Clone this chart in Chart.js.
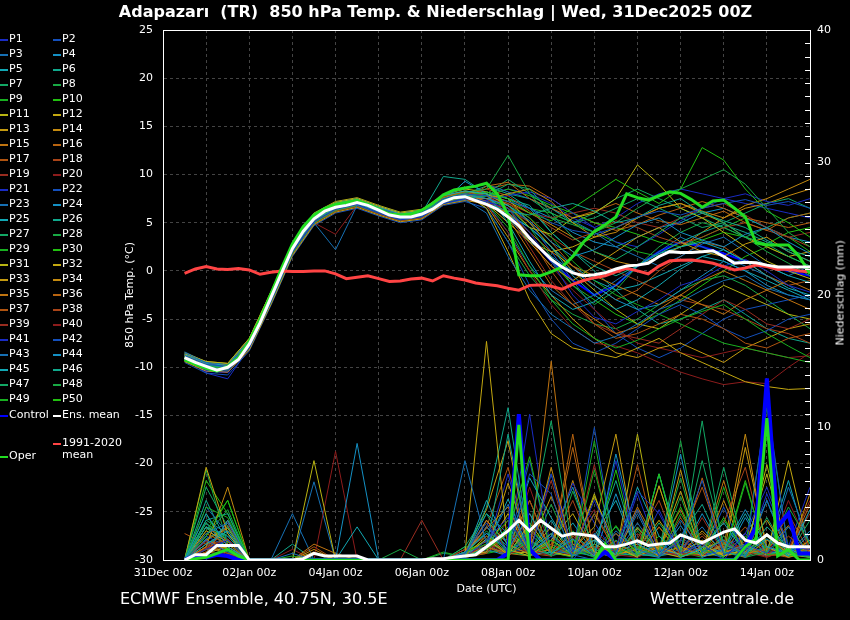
<!DOCTYPE html>
<html>
<head>
<meta charset="utf-8">
<script src="https://cdn.jsdelivr.net/npm/chart.js@4/dist/chart.umd.min.js"></script>
<style>
  body { margin: 0; background: #000; }
  #wrap { position: relative; width: 850px; height: 620px; background: #000; overflow: hidden;
          font-family: 'DejaVu Sans', sans-serif; color: #fff; }
  #c { position: absolute; left: 0; top: 0; }
  .txt { position: absolute; white-space: nowrap; }
  .lg { position: absolute; font-size: 11px; line-height: 12px; white-space: nowrap; }
  .lg i { position: absolute; left: 0; top: 6px; width: 8px; height: 2px; }
  .lg span { position: absolute; left: 9px; top: 0; }
</style>
</head>
<body>
<div id="wrap">
  <canvas id="c" width="850" height="620"></canvas>
  <div class="txt" style="left:0;width:871px;top:3px;text-align:center;font-size:16px;font-weight:bold;line-height:18px;">Adapazarı&nbsp;&nbsp;(TR)&nbsp;&nbsp;850 hPa Temp. &amp; Niederschlag | Wed, 31Dec2025 00Z</div>
  <div class="txt" style="left:120px;top:590px;font-size:16px;line-height:18px;">ECMWF Ensemble, 40.75N, 30.5E</div>
  <div class="txt" style="left:650px;top:590px;font-size:16px;line-height:18px;">Wetterzentrale.de</div>
  <div class="txt" style="left:790px;top:289px;width:100px;text-align:center;font-size:11px;line-height:13px;transform:rotate(-90deg);">Niederschlag (mm)</div>
  <div id="legend"></div>
</div>
<script>
// hours after 31Dec 00z
const hours6 = [12,18,24,30,36,42,48,54,60,66,72,78,84,90,96,102,108,114,120,126,
  132,138,144,150,156,162,168,174,180,186,192,198,204,210,216,222,228,234,240,246,
  252,258,264,270,276,282,288,294,300,306,312,318,324,330,336,342,348,354,360];
const hours12 = [12,24,36,48,60,72,84,96,108,120,132,144,156,168,
  180,192,204,216,228,240,252,264,276,288,300,312,324,336,348,360];
const xTickLabels = ['31Dec 00z','02Jan 00z','04Jan 00z','06Jan 00z','08Jan 00z','10Jan 00z','12Jan 00z','14Jan 00z'];

// 850 hPa temperature (°C), 6-hourly
const ensMean = [-9.0,-9.5,-9.9,-10.3,-10.0,-9.2,-7.6,-5.4,-2.8,-0.2,
  2.3,4.1,5.4,6.2,6.6,6.8,7.1,6.8,6.3,5.8,
  5.6,5.6,5.9,6.4,7.2,7.6,7.7,7.3,6.9,6.4,
  5.6,4.7,3.4,2.3,1.2,0.4,-0.2,-0.5,-0.4,-0.2,
  0.2,0.5,0.6,0.8,1.5,2.0,1.9,1.9,2.0,2.1,
  1.5,0.8,0.9,0.85,0.6,0.4,0.4,0.4,0.4];
const operTemp = [-9.2,-9.7,-10.1,-10.4,-9.9,-9.0,-7.3,-5.0,-2.4,0.3,
  2.8,4.6,5.8,6.5,6.9,7.1,7.3,6.9,6.4,5.9,
  5.8,5.9,6.3,7.0,7.9,8.4,8.6,8.8,9.1,8.0,
  5.8,-0.4,-0.5,-0.5,-0.1,0.4,1.5,3.0,4.1,4.8,
  5.6,8.0,7.6,7.35,7.8,8.2,8.05,7.4,6.6,7.25,
  7.35,6.5,5.6,2.9,2.7,2.7,2.7,1.5,-0.3];
const climMean = [-0.25,0.2,0.45,0.2,0.15,0.25,0.1,-0.35,-0.15,0.0,
  -0.05,-0.05,0.0,0.0,-0.3,-0.8,-0.65,-0.5,-0.8,-1.1,
  -1.05,-0.85,-0.75,-1.05,-0.5,-0.75,-0.95,-1.25,-1.4,-1.55,
  -1.8,-2.0,-1.5,-1.45,-1.6,-1.9,-1.4,-1.0,-0.7,-0.5,
  -0.1,0.27,0.0,-0.3,0.5,1.05,1.1,1.13,1.0,0.8,
  0.45,0.1,0.3,0.6,0.45,0.15,0.2,0.0,-0.1];

// precipitation (mm), 6-hourly
const meanPrecip = [0,0.4,0.4,1.1,1.1,1.1,0,0,0,0,
  0,0.1,0.5,0.3,0.3,0.3,0.3,0,0,0,
  0,0,0,0.1,0.1,0.2,0.3,0.4,1.0,1.6,
  2.2,3.0,2.2,3.0,2.4,1.8,2.0,1.9,1.8,1.0,
  1.0,1.2,1.45,1.1,1.2,1.28,1.9,1.6,1.3,1.7,
  2.1,2.35,1.5,1.28,1.9,1.28,1.0,1.0,1.0];
const operPrecip = [0,0.1,0.2,0.5,0.8,0.3,0,0,0,0,
  0,0,0,0,0,0,0,0,0,0,
  0,0,0,0,0,0,0,0,0,0,
  0,10.2,0,0,0,0,0,0,0,1.2,
  0,0,0,0,0,0,0,0,0,0,
  0,0,1.0,1.6,10.7,0.3,0.8,0,0];
const controlPrecip = [0,0.3,0.2,0.4,0.3,0,0,0,0,0,
  0,0,0,0,0,0,0,0,0,0,
  0,0,0,0,0,0,0,0,0,0,
  0.5,11.0,0.8,0,0,0,0,0,0,0.6,
  0,0,0,0,0,0,0,0,0,0,
  0,0,1.0,2.5,13.7,2.5,3.5,0.5,0.5];

// control run temperature, 12-hourly
const controlTemp = [-9.1,-10.4,-10.5,-7.8,-2.9,2.2,5.3,6.5,7.0,6.2,5.5,5.8,7.2,7.6,
  7.2,6.0,3.5,1.0,-1.0,-2.5,-1.5,0.5,2.0,3.0,2.5,1.8,1.0,0.5,0.0,-0.5];

// members P1..P50, temperature, 12-hourly
const tempMembers = [
  [-9.2,-10.3,-10.4,-8.0,-3.2,2.0,5.1,6.4,6.9,6.0,5.3,5.6,7.0,7.5, 7.2,6.5,4.0,1.0,-2.5,-4.8,-5.5,-4.2,-3.0,-1.5,-0.8,0.5,1.2,0.0,-1.5,-2.2],
  [-8.8,-9.7,-9.9,-7.4,-2.5,2.6,5.7,6.9,7.3,6.5,5.8,6.1,7.5,8.0, 7.8,7.2,6.5,5.0,4.2,3.8,4.5,5.6,6.2,5.8,6.5,7.0,7.4,6.8,7.2,6.5],
  [-8.5,-9.5,-10.1,-7.8,-3.0,2.0,5.0,2.2,6.8,6.1,5.4,5.7,7.0,7.4, 6.0,1.5,-2.0,-4.5,-6.0,-7.5,-6.8,-5.5,-4.0,-3.2,-2.0,-1.0,-0.5,-1.8,-2.5,-3.0],
  [-9.1,-10.0,-10.2,-7.7,-2.9,2.2,5.3,6.5,7.0,6.2,5.5,5.8,7.3,7.9, 7.5,6.8,5.2,3.0,1.5,2.2,3.5,4.8,5.5,4.0,3.2,2.5,3.8,4.5,3.0,1.8],
  [-8.7,-9.6,-9.8,-7.2,-2.4,2.7,5.8,7.0,7.4,6.6,5.9,6.2,7.8,8.3, 8.0,5.0,1.0,-2.5,-4.0,-3.2,-1.5,0.5,1.8,2.5,3.0,2.2,1.0,0.5,-0.5,-1.2],
  [-9.0,-9.8,-10.0,-7.5,-2.7,2.4,5.5,6.7,7.2,6.4,5.7,6.0,7.4,7.8, 7.0,6.2,5.8,6.5,7.0,6.2,5.0,5.5,6.8,7.5,6.0,5.2,4.5,3.2,2.0,1.0],
  [-9.3,-10.2,-10.3,-8.0,-3.3,1.8,5.0,6.3,6.8,6.0,5.3,5.6,7.0,7.5, 7.8,9.0,8.5,6.0,3.5,2.0,1.2,2.5,4.0,5.5,6.2,5.0,3.5,2.8,1.5,0.5],
  [-8.9,-9.8,-9.9,-7.5,-2.6,2.5,5.6,6.8,7.2,6.4,5.7,6.0,7.5,8.1, 8.5,12.0,8.0,5.5,4.8,4.0,5.0,6.5,7.8,8.5,9.5,10.5,9.0,6.5,4.0,2.5],
  [-9.0,-9.9,-10.0,-7.6,-2.8,2.3,5.4,6.6,7.1,6.3,5.6,5.9,7.2,7.7, 7.0,4.5,0.5,-3.0,-5.5,-7.0,-8.0,-7.2,-6.0,-5.0,-4.2,-3.5,-5.0,-6.5,-7.8,-9.0],
  [-9.1,-10.0,-10.1,-7.7,-2.9,2.2,5.3,6.5,7.0,6.2,5.5,5.8,7.2,7.8, 8.2,7.5,6.0,5.2,6.5,8.0,9.5,8.2,7.0,8.5,12.8,11.5,8.5,6.2,5.0,3.5],
  [-8.6,-9.4,-9.6,-7.0,-2.2,2.8,5.9,7.1,7.5,6.7,6.0,6.3,7.8,8.3, 8.0,6.8,4.5,3.8,5.5,6.0,7.5,11.0,9.0,6.5,5.5,4.0,2.5,1.0,0.0,-0.8],
  [-8.8,-9.7,-9.9,-7.4,-2.5,2.6,5.7,6.9,7.3,6.5,5.8,6.1,7.5,8.0, 6.5,2.0,-3.0,-6.5,-8.0,-8.5,-9.0,-8.0,-7.0,-8.5,-9.5,-10.5,-11.5,-12.0,-12.3,-12.2],
  [-9.4,-10.4,-10.5,-8.2,-3.5,1.6,4.8,6.1,6.6,5.8,5.1,5.4,6.9,7.3, 7.0,6.0,3.0,0.5,-1.0,0.5,2.0,3.5,4.5,3.0,2.0,1.5,2.8,3.5,2.0,1.0],
  [-9.0,-9.9,-10.0,-7.6,-2.8,2.3,5.4,6.6,7.1,6.3,5.6,5.9,7.2,7.7, 7.5,8.0,8.5,7.2,5.0,3.5,4.0,5.5,6.5,7.0,6.2,5.5,6.8,7.5,8.5,9.5],
  [-8.9,-9.8,-9.9,-7.5,-2.6,2.5,5.6,6.8,7.2,6.4,5.7,6.0,7.5,8.0, 7.2,5.5,2.0,-1.5,-3.5,-5.0,-6.5,-5.8,-4.0,-2.5,-3.5,-4.5,-3.0,-2.0,-1.0,-2.0],
  [-9.2,-10.1,-10.2,-7.9,-3.1,2.0,5.1,6.3,6.8,6.0,5.3,5.6,7.0,7.4, 8.8,9.2,7.5,6.5,5.5,6.2,7.0,6.0,5.2,4.8,5.5,6.2,5.0,4.2,5.5,6.0],
  [-8.7,-9.6,-9.8,-7.2,-2.4,2.7,5.8,7.0,7.4,6.6,5.9,6.2,7.7,8.2, 7.8,6.5,3.5,0.0,-3.0,-5.5,-7.0,-6.5,-5.5,-4.5,-5.0,-6.0,-7.5,-8.0,-7.0,-6.5],
  [-9.1,-10.0,-10.1,-7.7,-2.9,2.2,5.3,6.5,7.0,6.2,5.5,5.8,7.2,7.7, 8.5,7.8,6.2,4.5,3.2,4.0,5.2,4.5,3.5,2.8,3.5,4.5,5.0,4.2,3.5,2.5],
  [-8.8,-9.8,-10.0,-7.5,-2.6,2.4,5.5,6.7,7.1,6.3,5.6,5.9,7.3,7.8, 7.5,6.0,2.5,-1.0,-3.5,-5.5,-6.5,-7.0,-7.5,-6.0,-4.5,-3.0,-4.0,-5.5,-6.0,-5.0],
  [-9.3,-10.2,-10.3,-8.0,-3.3,1.8,5.0,3.8,6.8,6.0,5.3,5.6,7.0,7.5, 6.8,4.0,0.0,-3.5,-6.0,-7.5,-7.8,-8.5,-9.5,-10.5,-11.2,-11.8,-11.5,-11.7,-10.0,-8.5],
  [-9.0,-9.9,-10.0,-7.6,-2.8,2.3,5.4,6.6,7.1,6.3,5.6,5.9,7.2,7.7, 7.3,7.8,8.2,7.5,6.0,4.5,3.0,2.5,3.8,5.2,6.5,7.5,8.0,7.2,6.8,7.5],
  [-9.5,-10.6,-10.8,-8.3,-3.6,1.5,4.7,6.0,6.5,5.7,5.0,5.3,6.8,7.2, 6.5,3.0,-1.5,-5.0,-7.5,-8.5,-7.5,-6.0,-4.5,-3.5,-4.5,-6.0,-7.0,-6.2,-5.0,-4.5],
  [-8.6,-9.5,-9.7,-7.1,-2.3,2.8,5.9,7.1,7.5,6.7,6.0,6.3,7.9,8.6, 9.0,8.2,7.5,6.5,5.2,4.0,2.5,1.5,0.5,1.5,2.8,3.5,2.0,0.5,-0.5,0.5],
  [-9.0,-9.9,-10.0,-7.6,-2.8,2.3,5.4,6.6,7.1,6.3,5.6,5.9,7.2,9.3, 8.0,5.5,3.0,1.5,0.0,-1.5,-3.0,-4.0,-3.5,-2.0,-0.5,1.0,0.0,-1.5,-2.5,-3.0],
  [-9.2,-10.1,-10.2,-7.8,-3.0,2.1,5.2,6.4,6.9,6.1,5.4,5.7,7.0,7.6, 7.0,5.8,4.5,2.5,-0.5,-2.5,-4.0,-3.0,-1.5,0.2,1.5,2.2,1.0,-0.5,-1.8,-2.5],
  [-8.9,-9.8,-9.9,-7.5,-2.6,2.5,5.6,6.8,7.2,6.4,5.7,6.0,9.8,9.5, 8.0,7.5,6.8,4.0,2.0,0.5,-0.5,0.5,1.8,3.0,4.0,4.8,4.0,3.0,2.2,1.5],
  [-9.1,-10.0,-10.1,-7.7,-2.9,2.2,5.3,6.5,7.0,6.2,5.5,5.8,7.2,7.7, 8.0,9.5,8.0,6.5,5.0,5.5,6.5,7.5,6.5,5.5,4.5,5.0,6.0,7.0,7.5,6.5],
  [-8.8,-9.7,-9.9,-7.4,-2.5,2.6,5.7,6.9,7.3,6.5,5.8,6.1,7.5,8.0, 7.5,6.5,4.5,1.5,-1.5,-3.5,-2.0,0.5,2.5,4.0,5.0,4.5,3.5,2.0,0.8,-0.5],
  [-9.0,-9.9,-10.1,-7.6,-2.8,2.3,5.4,6.6,7.1,6.3,5.6,5.9,7.2,7.7, 7.2,6.8,5.5,3.5,1.0,-1.0,-2.5,-3.5,-4.5,-5.5,-6.5,-7.5,-8.0,-8.5,-9.0,-9.5],
  [-9.3,-10.2,-10.4,-8.0,-3.2,1.9,5.0,6.3,6.8,6.0,5.3,5.6,7.0,7.5, 7.8,8.5,7.8,6.8,6.0,5.0,4.5,3.8,3.0,2.5,3.2,4.0,3.5,2.8,4.0,4.5],
  [-8.5,-9.4,-9.6,-7.0,-2.2,2.8,6.0,7.2,7.6,6.8,6.1,6.4,7.9,8.5, 8.2,7.5,5.0,2.5,0.0,-2.0,-4.0,-5.5,-6.0,-4.5,-3.0,-1.5,-2.5,-3.5,-4.5,-5.0],
  [-9.0,-9.9,-10.0,-7.6,-2.8,2.3,5.4,6.6,7.1,6.3,5.6,5.9,7.2,7.7, 7.0,5.0,3.0,2.0,2.5,3.5,4.5,5.5,6.5,7.0,6.0,5.0,3.5,2.5,1.5,2.0],
  [-9.2,-10.1,-10.2,-7.8,-3.0,2.1,5.2,6.4,6.9,6.1,5.4,5.7,7.1,7.6, 6.8,3.5,0.0,-2.5,-5.0,-7.0,-8.5,-9.0,-8.0,-7.5,-8.5,-9.5,-8.0,-7.0,-6.0,-5.5],
  [-8.8,-9.7,-9.8,-7.3,-2.4,2.7,5.8,7.0,7.4,6.6,5.9,6.2,7.6,8.2, 8.0,7.2,6.0,4.8,3.5,2.0,1.0,0.5,1.5,2.5,4.0,5.5,6.5,7.0,7.8,8.5],
  [-9.1,-10.0,-10.1,-7.7,-2.9,2.2,5.3,6.5,7.0,6.2,5.5,5.8,7.2,7.7, 7.5,6.0,4.0,2.0,0.5,-0.5,-1.5,-2.5,-3.5,-2.5,-1.0,0.0,-1.0,-2.0,-3.0,-4.0],
  [-9.0,-9.9,-10.0,-7.6,-2.8,2.3,5.4,6.6,7.1,6.3,5.6,5.9,7.3,7.9, 8.5,9.0,8.8,7.5,6.0,5.0,4.2,4.8,5.8,6.5,7.2,6.5,5.5,5.0,4.5,5.0],
  [-8.7,-9.6,-9.8,-7.3,-2.5,2.6,5.7,6.9,7.3,6.5,5.8,6.1,7.5,8.0, 7.8,7.0,5.5,3.0,0.5,-1.5,-3.0,-2.0,0.0,1.5,3.0,2.5,1.0,-0.5,-1.5,-1.0],
  [-9.4,-10.3,-10.5,-8.1,-3.4,1.7,4.9,6.2,6.7,5.9,5.2,5.5,6.9,7.4, 7.0,6.5,5.0,3.5,2.0,1.0,0.0,-1.0,-2.0,-3.0,-3.5,-4.0,-5.0,-6.0,-6.5,-7.5],
  [-9.0,-9.9,-10.0,-7.6,-2.8,2.3,5.4,6.6,7.1,6.3,5.6,5.9,7.2,7.7, 7.5,7.0,6.0,5.5,6.0,6.5,6.0,5.0,4.5,5.5,6.5,7.0,5.8,4.5,3.5,4.0],
  [-9.2,-10.1,-10.3,-7.9,-3.1,2.0,5.1,6.3,6.8,6.0,5.3,5.6,7.0,7.5, 7.2,5.5,3.0,0.5,-2.0,-4.0,-6.0,-7.5,-8.0,-8.5,-9.0,-8.5,-8.0,-8.5,-9.0,-8.8],
  [-9.0,-10.6,-11.2,-8.0,-3.0,2.1,5.2,6.4,6.9,6.1,5.4,5.7,7.1,7.6, 7.8,8.5,8.0,7.0,5.5,4.5,5.5,7.0,8.0,8.5,8.0,7.5,7.0,6.5,6.0,5.5],
  [-8.8,-9.7,-9.9,-7.4,-2.5,2.6,5.7,6.9,7.3,6.5,5.8,6.1,7.5,8.0, 7.5,6.8,5.0,2.0,-1.0,-4.0,-6.5,-8.0,-9.0,-8.0,-6.5,-5.0,-4.0,-3.5,-3.0,-2.5],
  [-8.4,-9.5,-9.8,-7.3,-2.6,2.4,5.5,6.7,7.1,6.3,5.6,5.9,7.3,7.8, 7.0,4.0,0.5,-2.0,-3.5,-2.5,-1.0,0.5,2.0,3.5,2.5,1.5,0.5,-0.5,-1.5,-2.8],
  [-9.0,-9.9,-10.0,-7.6,-2.8,2.3,5.4,6.6,7.1,6.3,5.6,5.9,7.2,7.7, 8.2,7.5,6.5,5.5,4.0,3.0,2.5,3.5,4.5,5.0,6.0,6.5,5.5,4.5,3.5,3.0],
  [-9.3,-10.2,-10.3,-7.9,-3.2,1.9,5.0,6.3,6.8,6.0,5.3,5.6,7.0,7.5, 7.0,6.0,4.5,2.5,0.5,-1.0,-2.0,-1.5,-0.5,0.5,1.5,1.0,0.0,-1.0,-2.0,-3.0],
  [-8.9,-9.8,-9.9,-7.5,-2.6,2.5,5.6,6.8,7.2,6.4,5.7,6.0,7.4,8.0, 8.8,8.0,6.5,4.0,2.0,0.0,-2.0,-4.0,-5.5,-5.0,-4.0,-3.0,-4.5,-6.0,-7.0,-7.5],
  [-9.1,-10.0,-10.1,-7.7,-2.9,2.2,5.3,6.5,7.0,6.2,5.5,5.8,7.2,7.7, 7.5,8.0,7.5,6.0,5.0,6.0,7.5,8.5,7.5,6.5,5.5,4.5,3.5,4.5,5.5,6.0],
  [-8.7,-9.6,-9.8,-7.3,-2.4,2.7,5.8,7.0,7.4,6.6,5.9,6.2,7.6,8.1, 6.5,3.0,-0.5,-3.0,-4.5,-5.5,-6.0,-5.0,-3.5,-2.0,-1.0,-0.5,-1.5,-3.0,-4.5,-6.0],
  [-9.0,-9.9,-10.0,-7.6,-2.8,2.3,5.4,6.6,7.1,6.3,5.6,5.9,7.2,7.7, 7.8,7.2,6.5,6.0,5.0,4.0,3.0,2.0,1.5,2.5,3.5,4.5,5.5,4.5,3.5,2.0],
  [-9.2,-10.1,-10.2,-7.8,-3.0,2.1,5.2,6.4,6.9,6.1,5.4,5.7,7.1,7.6, 7.0,5.5,3.5,1.0,-1.5,-3.0,-4.5,-5.5,-4.5,-3.0,-1.5,0.0,1.5,2.5,1.5,0.5]
];

// members P1..P50, precipitation, 12-hourly
const precipMembers = [
  [0,0.8,1.5,0,0,0,0,0,0,0,0,0,0,0.2, 1.5,3.2,0.4,6.5,0.6,4.5,1.0,5.2,3.5,0.5,1.2,0,2.0,5.5,1.0,0.8],
  [0,1.5,0.6,0,0,0,0,0,0,0,0,0,0,0.5, 2.8,0.5,6.5,5.0,0,2.0,0.6,3.8,0.3,1.5,6.0,0.4,1.2,0.5,2.5,0.3],
  [0,2.0,2.8,0,0,0.5,0,0,0,0,0,0,0,7.5, 1.2,4.2,0.6,1.8,0.4,0,2.2,0.8,0.2,3.0,0.6,1.5,0.2,4.5,0.7,1.0],
  [0,3.5,1.0,0,0,0,0,0,8.8,0,0,0,0,0.6, 2.0,0.8,3.5,0.5,1.6,0.3,8.0,1.2,0.4,2.6,0.2,0.8,3.8,1.0,0.5,2.2],
  [0,1.2,2.2,0,0,0,0,0,2.5,0,0,0,0,0.3, 4.5,1.0,6.2,3.2,0.6,1.5,0.4,5.5,1.8,0.2,0.9,2.8,0.5,1.6,0.3,3.8],
  [0,2.5,1.8,0,0,0,0,0,0,0,0,0,0,0.2, 1.0,9.5,0.8,2.0,0.3,1.2,6.0,0.5,0.2,1.8,4.2,0.6,0.3,2.5,1.0,0.4],
  [0,5.5,2.5,0,0,0,0,0,0,0,0,0,0,1.0, 3.5,0.6,2.2,10.5,0.8,0.2,1.5,0.3,2.8,0.6,7.5,1.2,0.4,3.2,0.5,0.2],
  [0,2.8,1.5,0,0,0,0,0,0,0,0.8,0,0,0.4, 2.2,0.5,1.4,0.3,5.2,0.8,0.2,2.5,0.6,9.0,0.4,1.8,0.2,0.6,4.0,1.2],
  [0,4.0,3.2,0,0,0.3,0,0,0,0,0,0,0,0.6, 1.2,3.0,0.4,1.5,0.3,6.8,0.5,1.0,0.2,3.5,0.8,0.2,5.8,0.4,0.6,0.3],
  [0,1.8,4.5,0,0,0,0,0,0,0,0,0,0,0.3, 0.8,2.0,7.8,0.5,1.5,0.2,2.6,0.4,6.5,0.3,0.6,3.2,0.5,1.8,0.3,0.5],
  [0,0.5,1.0,0,0,0,7.5,0,0,0,0,0,0,0.2, 1.6,0.4,2.8,0.6,0.3,4.8,1.0,0.2,5.6,0.5,1.2,0.3,0.8,6.5,0.4,0.2],
  [0,7.0,2.0,0,0,0,0,0,0,0,0,0,0,0.5, 16.5,0.8,0.3,1.5,3.5,0.6,0.2,2.4,0.8,5.2,0.3,0.5,1.2,3.0,0.4,0.6],
  [0,2.2,1.4,0,0,0,0,0,0,0,0,0,0,0.4, 0.6,5.8,1.0,4.8,0.8,2.5,9.5,0.3,1.0,0.4,2.2,0.5,8.5,1.0,0.2,0.6],
  [0,1.0,5.5,0,0,0,0.8,0,0,0,0,0,0,0.2, 3.0,1.2,0.4,7.0,0.6,1.5,0.2,3.8,0.5,1.0,0.3,4.5,0.6,2.0,0.4,5.0],
  [0,1.5,0.8,0,0,0,1.2,0.5,0,0,0,0,0,0.6, 2.4,4.0,0.5,15.0,1.2,0.3,2.0,0.6,1.0,3.8,0.4,1.2,0.5,0.8,2.6,0.3],
  [0,2.0,1.2,0,0,0,0,0,0,0,0,0,0,0.3, 1.0,0.5,3.5,0.8,8.5,0.6,1.4,0.3,2.5,0.5,6.2,0.8,0.2,1.5,0.6,4.2],
  [0,0.6,2.6,0,0,0,0,0,0,0,0,0,0,0.2, 0.5,2.2,0.4,1.2,0.3,3.5,0.6,7.2,0.4,1.5,5.5,0.8,2.5,0.5,0.2,1.0],
  [0,1.2,0.5,0,0,0,0,0,0,0,0,0,0,0.8, 1.8,0.4,4.5,0.6,2.0,0.3,0.8,1.6,4.5,0.3,1.0,2.8,7.0,0.3,1.8,0.6],
  [0,0.9,1.6,0,0,0,0,0,0,0,0,3.0,0,0.4, 3.0,0.6,1.2,6.0,0.4,1.0,0.3,2.0,0.6,0.4,3.2,0.5,1.4,0.2,0.8,4.5],
  [0,1.0,0.4,0,0,0,0,8.2,0,0,0,0,0,0.3, 1.2,0.5,0.8,0.3,1.5,3.8,0.4,0.2,1.0,0.5,0.3,1.4,0.6,0.2,4.5,0.8],
  [0,0.3,0.8,0,0,0,0,0,0,0,0,0,0,0.2, 0.8,6.5,0.3,1.5,5.8,2.8,0.4,5.0,0.6,1.2,0.3,0.8,2.0,0.5,1.0,5.5],
  [0,1.8,1.0,0,0,0,0,0,0,0,0,0,0,0.5, 2.5,1.0,7.5,0.4,1.0,0.5,2.0,0.3,0.6,1.8,0.4,4.0,0.3,12.0,0.6,0.4],
  [0,4.0,2.0,0,0,0,5.9,0,0,0,0,0,0,0.4, 1.2,0.3,2.2,0.8,0.4,1.5,0.5,3.5,0.3,0.8,2.5,0.4,1.0,0.3,5.5,1.2],
  [0,0.5,3.0,0,0,0,0,0,0,0,0,0,0,0.3, 3.5,2.0,0.5,1.8,5.5,0.6,0.3,1.5,0.5,8.0,0.6,0.2,3.2,0.6,0.3,2.0],
  [0,2.5,0.8,0,0,0,0,0,0,0,0,0,0,0.6, 1.0,4.6,0.6,3.0,0.3,1.8,4.5,0.5,0.8,0.4,1.0,0.6,3.5,0.4,0.8,0.3],
  [0,3.0,3.5,0,0,0,0,0,0,0,0,0,0,0.2, 4.0,11.5,0.8,0.4,2.0,0.6,0.3,0.5,6.5,0.8,0.4,1.2,0.5,2.0,0.6,0.3],
  [0,1.2,2.0,0,0,0,0,0,0,0,0,0,0,0.4, 0.6,0.8,1.5,0.3,0.8,3.5,1.0,0.4,1.2,0.3,10.5,0.6,0.2,1.0,0.4,3.0],
  [0,6.8,1.2,0,0,0,0,0,0,0,0,0,0,0.5, 2.0,0.6,0.3,4.2,0.5,0.8,0.3,2.2,0.5,6.2,0.4,3.0,0.8,0.3,1.2,0.5],
  [0,2.2,4.5,0,0,0,0,0,0,0,0,0,0.6,0.2, 1.5,0.4,2.5,0.6,0.2,9.0,0.5,0.3,1.8,0.6,0.2,5.5,0.4,1.0,0.3,0.6],
  [0,3.5,0.6,0,0,0,0,0,0,0,0,0,0,1.0, 0.8,2.5,0.5,1.0,0.4,0.6,6.8,0.3,0.8,4.0,0.5,0.8,0.3,1.5,0.6,0.2],
  [0,1.0,0.5,0,0,0,0,0,0,0,0,0,0,0.3, 1.8,0.5,0.6,2.5,0.4,5.0,0.3,9.5,0.6,0.2,0.8,1.5,0.4,7.2,0.3,1.0],
  [0,1.5,2.4,0,0,0,0,0,0,0,0,0,0,0.4, 2.5,1.0,4.5,0.5,0.3,1.2,0.4,0.8,3.0,0.6,1.5,0.3,0.8,0.4,7.5,0.6],
  [0,0.8,1.0,0,0,0,0,0,0,0,0,0,0,0.6, 3.8,9.0,0.6,1.5,0.4,2.0,0.6,1.2,0.3,6.8,0.4,0.6,1.0,0.5,0.3,1.5],
  [0,0.4,3.0,0,0,0,0.6,0,0,0,0,0,0,0.5, 0.9,3.5,0.5,0.8,6.0,0.4,1.0,0.3,2.5,0.4,0.6,1.0,9.5,0.6,0.4,0.8],
  [0,2.5,1.5,0,0,0,0,0,0,0,0,0,0,0.6, 1.4,0.5,0.3,2.0,0.6,1.0,0.5,4.0,1.0,0.3,0.5,6.0,0.3,1.8,0.4,0.6],
  [0,0.6,0.4,0,0,0,0,0,0,0,0,0,0,0.3, 1.0,0.3,1.5,0.6,9.5,0.4,1.2,0.6,0.3,1.0,2.0,0.4,0.6,0.3,0.5,1.5],
  [2.0,1.2,1.5,0,0,0,1.0,0,0,0,0,0,0,0.2, 2.5,7.0,0.5,0.3,1.8,0.6,0.3,1.0,0.5,3.2,0.5,0.8,2.0,0.4,0.6,0.3],
  [0,0.8,2.8,0,0,0,0,0,0,0,0,0,0,0.5, 0.5,2.0,0.3,1.2,4.5,0.5,0.3,1.0,5.6,0.6,1.8,0.3,0.6,0.4,3.5,0.5],
  [0,1.5,0.8,0,0,0,0,0,0,0,0,0,0,0.8, 0.6,3.0,0.4,0.8,0.5,7.2,0.3,2.5,0.4,0.6,0.3,1.8,0.6,0.4,0.8,3.5],
  [0,1.4,0.6,0,0,0.8,0,0,0,0,0,0,0,0.4, 1.0,0.4,5.5,0.8,0.3,2.2,0.8,0.4,0.6,0.3,1.0,0.5,0.3,0.8,0.5,3.8],
  [0,0.5,1.0,0,0,0,0,0,0,0,0,0,0,0.3, 1.5,0.6,11.0,0.5,0.8,0.4,7.5,0.5,3.8,0.3,0.6,0.8,0.3,5.0,1.0,0.5],
  [0,0.6,1.8,0,0,0,0,0,0,0,0,0,0,0.8, 2.0,1.5,0.4,0.8,0.5,10.0,0.3,0.8,0.4,1.5,0.6,0.3,2.0,0.5,0.3,1.0],
  [0,1.0,2.2,0,0,3.5,0,0,0,0,0,0,0,0.4, 2.5,0.6,0.8,0.3,1.2,0.6,0.4,2.8,0.5,0.4,1.5,0.6,0.3,1.0,0.5,0.4],
  [0,2.8,0.8,0,0,0,0,0,0,0,0,0,0,0.6, 0.8,0.3,2.0,0.5,0.6,0.3,5.0,0.5,1.2,0.4,3.5,0.6,0.8,4.5,0.3,0.6],
  [0,1.6,2.5,0,0,0,0,0,0,0,0,0,0,0.4, 3.0,1.2,0.4,0.6,2.8,0.5,0.3,0.8,0.5,0.3,0.6,1.0,0.4,0.6,6.0,0.4],
  [0,4.5,1.2,0,0,1.2,0,0,0,0,0,0,0,0.3, 0.6,2.5,0.3,0.8,0.4,1.5,0.6,0.3,6.5,0.4,0.8,0.3,1.2,0.5,0.3,0.6],
  [0,3.0,2.0,0,0,0,0,0,0,0,0,0,0,0.5, 1.0,0.4,1.5,6.5,0.6,0.8,2.5,0.4,0.3,0.6,0.4,7.0,0.5,1.0,0.3,0.8],
  [0,1.8,3.8,0,0,0,0,0,0,0,0,0,0.5,0.3, 0.8,3.5,0.6,0.4,2.2,0.4,0.8,0.3,0.5,4.8,0.3,0.6,1.8,0.5,0.6,0.3],
  [0,2.5,1.5,0,0,0,0,0,0,0,0,0,0,0.2, 0.5,0.8,0.3,1.5,0.5,0.6,0.3,0.8,0.4,0.6,0.3,0.5,1.0,11.5,0.8,0.4],
  [0,6.0,3.5,0,0,0,0,0,0,0,0,0,0,0.6, 1.5,0.5,2.5,0.4,0.8,0.5,0.4,1.0,0.6,0.3,0.8,0.4,6.0,0.3,2.5,0.5]
];

// colour cycle of the members (P1..P20, repeats)
const memberColors = ['#1a2cc4','#1450bc','#1670b4','#1490c4','#12a8b4','#10a88c','#12a864','#18a844','#18b020','#22c010',
  '#b8b412','#c4a810','#c49a10','#c48a10','#c07410','#b86410','#b05410','#a84418','#982c20','#8c1c1c'];

const OPER = '#22dd22', CTRL = '#0000ff', CLIM = '#ff4444', MEAN = '#ffffff';

const pts = (xs, ys) => xs.map((x, i) => ({x: x, y: ys[i]}));
const line = (label, xs, ys, color, width, axis) => ({
  label: label, data: pts(xs, ys), borderColor: color, borderWidth: width,
  yAxisID: axis, pointRadius: 0, tension: 0, fill: false
});

// first dataset is drawn on top
const datasets = [
  line('Ens. mean', hours6, ensMean, MEAN, 3, 'y'),
  line('Oper', hours6, operTemp, OPER, 3, 'y'),
  line('1991-2020 mean', hours6, climMean, CLIM, 3, 'y'),
  line('Ens. mean precip', hours6, meanPrecip, MEAN, 3, 'y2'),
  line('Oper precip', hours6, operPrecip, OPER, 3, 'y2'),
  line('Control precip', hours6, controlPrecip, CTRL, 4, 'y2')
];
tempMembers.forEach((m, i) => datasets.push(line('P' + (i + 1), hours12, m, memberColors[i % 20], 1, 'y')));
precipMembers.forEach((m, i) => datasets.push(line('P' + (i + 1) + ' precip', hours12, m, memberColors[i % 20], 1, 'y2')));
datasets.push(line('Control', hours12, controlTemp, CTRL, 2, 'y'));

// frame round the plot and small inward ticks on the precipitation axis
const frame = {
  id: 'frame',
  afterDraw(chart) {
    const {ctx, chartArea: a, scales} = chart;
    ctx.save();
    ctx.strokeStyle = '#fff';
    ctx.lineWidth = 1;
    ctx.strokeRect(Math.round(a.left) + 0.5, Math.round(a.top) + 0.5, Math.round(a.right - a.left), Math.round(a.bottom - a.top));
    const y2 = scales.y2;
    y2.ticks.forEach(t => {
      const py = Math.round(y2.getPixelForValue(t.value)) + 0.5;
      ctx.beginPath();
      ctx.moveTo(a.right - 5, py);
      ctx.lineTo(a.right, py);
      ctx.stroke();
    });
    ctx.restore();
  }
};

const tickFont = {family: 'DejaVu Sans', size: 11};
const gridStyle = {color: '#444', lineWidth: 1, drawTicks: false};

new Chart(document.getElementById('c'), {
  type: 'line',
  data: {datasets: datasets},
  options: {
    responsive: false,
    animation: false,
    devicePixelRatio: 1,
    layout: {padding: {left: 120, right: 0, top: 30, bottom: 20}},
    plugins: {legend: {display: false}, tooltip: {enabled: false}},
    scales: {
      x: {
        type: 'linear', min: 0, max: 360,
        grid: gridStyle,
        border: {color: '#fff', dash: [3, 3]},
        ticks: {
          stepSize: 24, autoSkip: false, maxRotation: 0, padding: 7,
          color: '#fff', font: tickFont,
          callback: v => (v % 48 === 0 ? xTickLabels[v / 48] : '')
        },
        title: {display: true, text: 'Date (UTC)', color: '#fff', font: tickFont, padding: {top: 4, bottom: 4}},
        afterFit: s => { s.height = 40; }
      },
      y: {
        position: 'left', min: -30, max: 25,
        grid: gridStyle,
        border: {color: '#fff', dash: [3, 3]},
        ticks: {stepSize: 5, padding: 10, color: '#fff', font: tickFont},
        title: {display: true, text: '850 hPa Temp. (°C)', color: '#fff', font: tickFont, padding: {top: 4, bottom: 4}},
        afterFit: s => { s.width = 43; }
      },
      y2: {
        position: 'right', min: 0, max: 40,
        grid: {drawOnChartArea: false, drawTicks: false},
        border: {color: '#fff'},
        ticks: {
          stepSize: 1, autoSkip: false, padding: 7, color: '#fff', font: tickFont,
          callback: v => (v % 10 === 0 ? v : '')
        },
        afterFit: s => { s.width = 40; }
      }
    }
  },
  plugins: [frame]
});

// legend at the left
const legend = document.getElementById('legend');
function addEntry(text, color, col, y) {
  const d = document.createElement('div');
  d.className = 'lg';
  d.style.left = (col === 0 ? 0 : 53) + 'px';
  d.style.top = (y - 6) + 'px';
  d.innerHTML = '<i style="background:' + color + '"></i><span>' + text + '</span>';
  legend.appendChild(d);
}
tempMembers.forEach((m, i) => addEntry('P' + (i + 1), memberColors[i % 20], i % 2, 39 + Math.floor(i / 2) * 15));
addEntry('Control', CTRL, 0, 415);
addEntry('Ens. mean', MEAN, 1, 415);
addEntry('1991-2020<br>mean', CLIM, 1, 443);
addEntry('Oper', OPER, 0, 456);
</script>
</body>
</html>
